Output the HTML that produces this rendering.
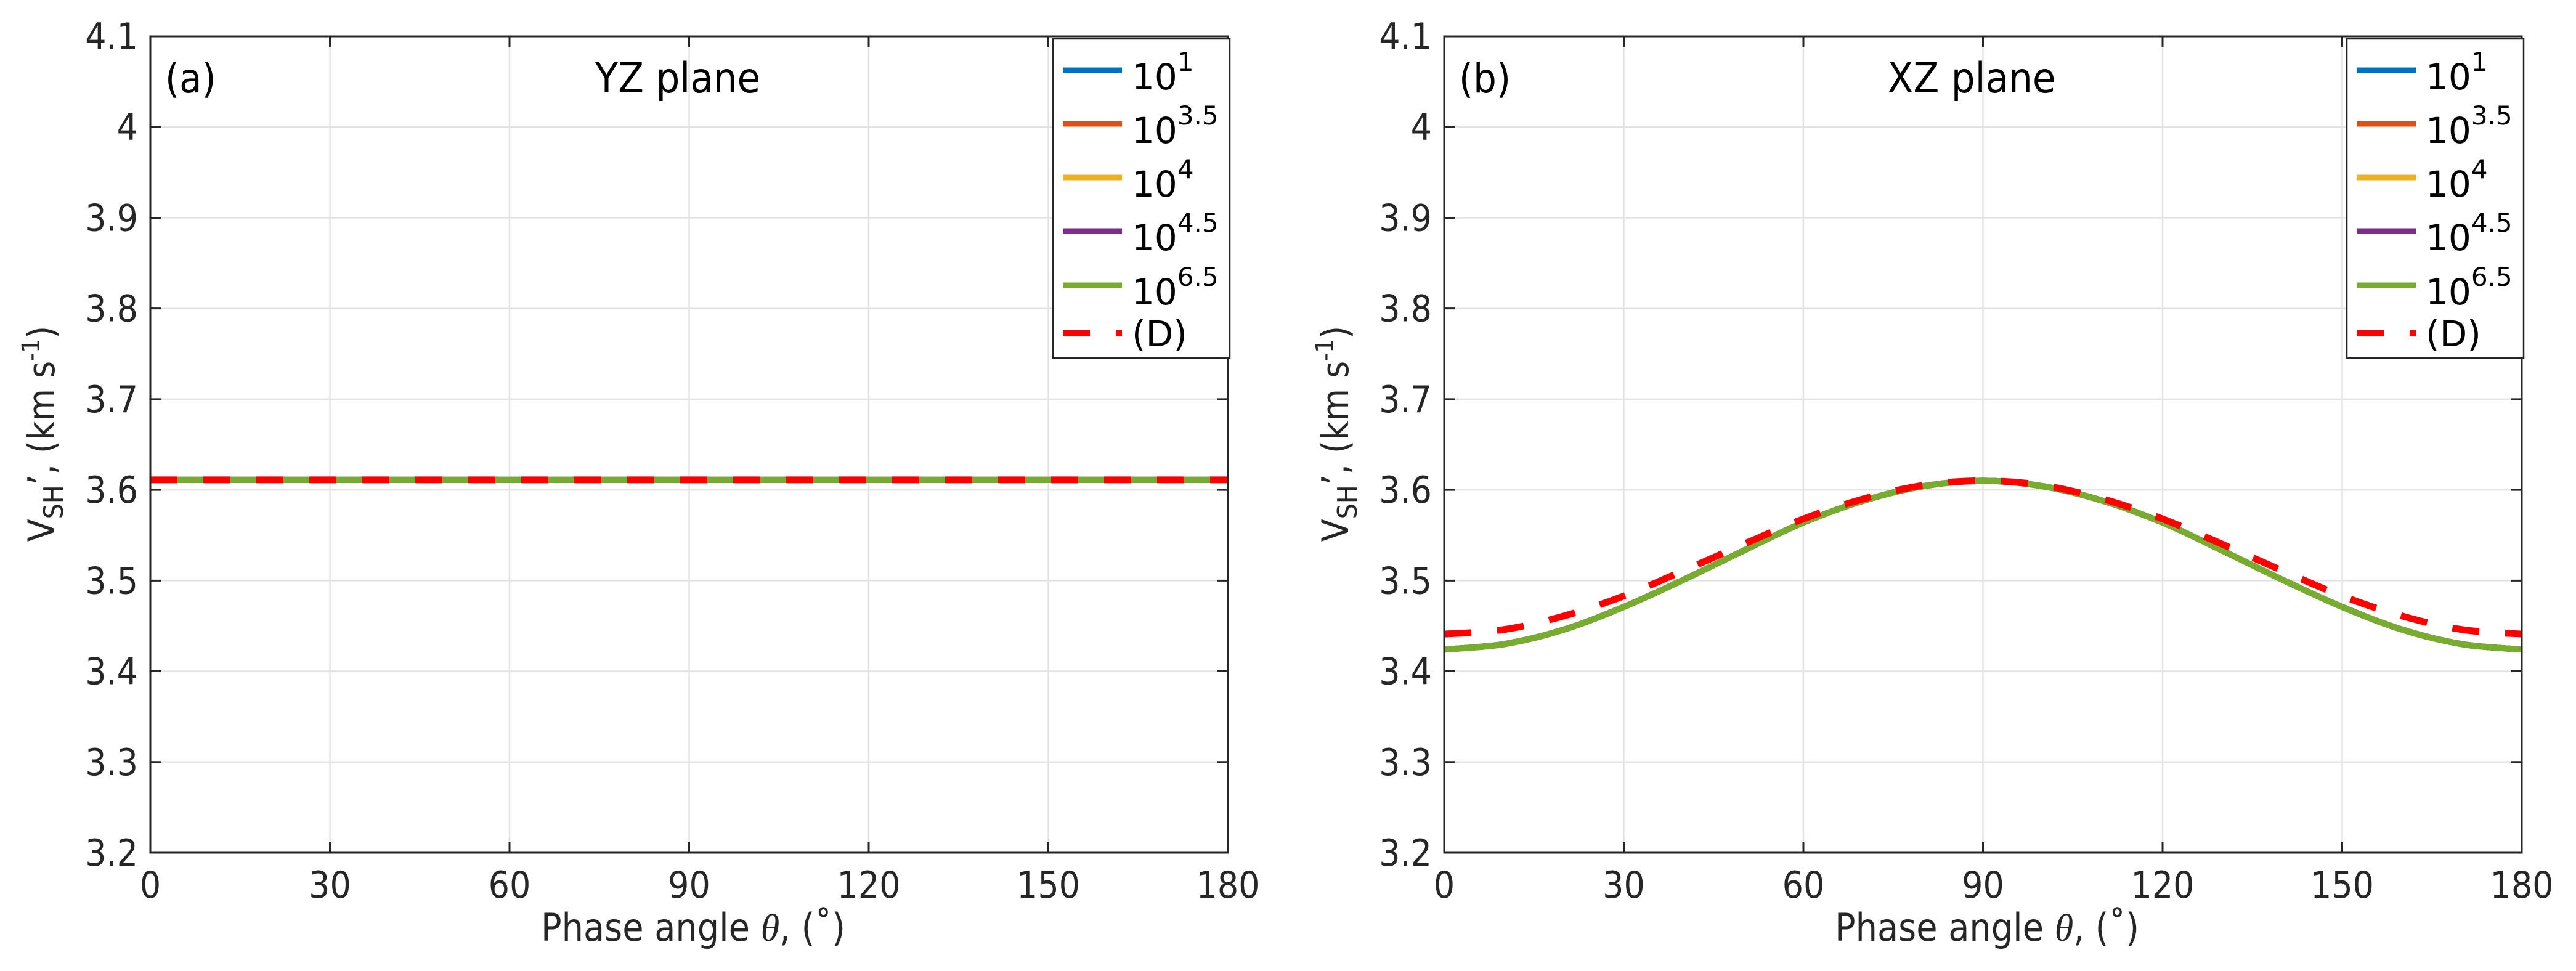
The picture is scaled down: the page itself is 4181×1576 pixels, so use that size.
<!DOCTYPE html>
<html><head><meta charset="utf-8"><style>
body{margin:0;background:#fff}
svg{display:block;font-family:"DejaVu Sans Condensed","DejaVu Sans","Liberation Sans",sans-serif}
</style></head><body>
<svg id="fig" width="4181" height="1576" viewBox="0 0 4181 1576" xmlns="http://www.w3.org/2000/svg"></svg>
<script>
const xTicks=[0,30,60,90,120,150,180];
const yTicks=[3.2,3.3,3.4,3.5,3.6,3.7,3.8,3.9,4.0,4.1];
const yTickLabels=["3.2","3.3","3.4","3.5","3.6","3.7","3.8","3.9","4","4.1"];
const seriesNames=["10^1","10^3.5","10^4","10^4.5","10^6.5"];
const seriesColors=["#0072bd","#d95319","#edb120","#7e2f8e","#77ac30"];
const angles=[0,10,20,30,40,50,60,70,80,90,100,110,120,130,140,150,160,170,180];
const yzSolid=[3.611,3.611,3.611,3.611,3.611,3.611,3.611,3.611,3.611,3.611,3.611,3.611,3.611,3.611,3.611,3.611,3.611,3.611,3.611];
const yzD=[3.611,3.611,3.611,3.611,3.611,3.611,3.611,3.611,3.611,3.611,3.611,3.611,3.611,3.611,3.611,3.611,3.611,3.611,3.611];
const xzSolid=[3.424,3.430,3.446,3.471,3.501,3.533,3.564,3.588,3.604,3.610,3.604,3.588,3.564,3.533,3.501,3.471,3.446,3.430,3.424];
const xzD=[3.441,3.446,3.461,3.483,3.511,3.540,3.568,3.590,3.605,3.610,3.605,3.590,3.568,3.540,3.511,3.483,3.461,3.446,3.441];

const NS="http://www.w3.org/2000/svg";
const svg=document.getElementById('fig');
function mk(tag,attrs,parent){const e=document.createElementNS(NS,tag);for(const k in attrs)e.setAttribute(k,attrs[k]);(parent||svg).appendChild(e);return e;}

function panel(ox,letter,title,solid,dashed,pname){
  const L=ox+244,R=ox+1993,T=59,B=1384;
  const xs=v=>L+(v-0)/180*(R-L);
  const ys=v=>B-(v-3.2)/0.9*(B-T);
  const g=mk('g',{});
  
  
  xTicks.forEach(t=>{const l=mk('line',{x1:xs(t),x2:xs(t),y1:T,y2:B,stroke:'#e3e3e3','stroke-width':2.5},g);
    });
  yTicks.forEach(t=>{const l=mk('line',{x1:L,x2:R,y1:ys(t),y2:ys(t),stroke:'#e3e3e3','stroke-width':2.5},g);
    });
  function pts(arr){return angles.map((a,i)=>[xs(a),ys(arr[i])]);}
  function smooth(p){let d='M'+p[0][0]+','+p[0][1];for(let i=0;i<p.length-1;i++){const p0=p[Math.max(i-1,0)],p1=p[i],p2=p[i+1],p3=p[Math.min(i+2,p.length-1)];
    d+=' C'+(p1[0]+(p2[0]-p0[0])/6)+','+(p1[1]+(p2[1]-p0[1])/6)+' '+(p2[0]-(p3[0]-p1[0])/6)+','+(p2[1]-(p3[1]-p1[1])/6)+' '+p2[0]+','+p2[1];}return d;}
  seriesColors.forEach((c,i)=>{const p=mk('path',{d:smooth(pts(solid)),fill:'none',stroke:c,'stroke-width':10},g);
    });
  const dp=mk('path',{d:smooth(pts(dashed)),fill:'none',stroke:'#ff0000','stroke-width':11,'stroke-dasharray':'44 42'},g);
  
  const bx=mk('rect',{x:L,y:T,width:R-L,height:B-T,fill:'none',stroke:'#262626','stroke-width':3},g);
  
  xTicks.forEach(t=>{mk('line',{x1:xs(t),x2:xs(t),y1:B,y2:B-17,stroke:'#262626','stroke-width':3},g);
    mk('line',{x1:xs(t),x2:xs(t),y1:T,y2:T+17,stroke:'#262626','stroke-width':3},g);
    const tx=mk('text',{x:xs(t),y:1457,'font-size':60,'text-anchor':'middle',fill:'#262626'},g);tx.textContent=t;
    });
  yTicks.forEach((t,i)=>{mk('line',{x1:L,x2:L+17,y1:ys(t),y2:ys(t),stroke:'#262626','stroke-width':3},g);
    mk('line',{x1:R,x2:R-17,y1:ys(t),y2:ys(t),stroke:'#262626','stroke-width':3},g);
    const tx=mk('text',{x:L-20,y:ys(t)+21,'font-size':60,'text-anchor':'end',fill:'#262626'},g);tx.textContent=yTickLabels[i];
    });
  const xl=mk('text',{x:ox+1125,y:1527,'font-size':62,'text-anchor':'middle',fill:'#262626'},g);
  xl.innerHTML='Phase angle <tspan font-family="Liberation Serif" font-style="italic">θ</tspan>, (˚)';
  
  const yl=mk('text',{x:0,y:0,'font-size':60,'text-anchor':'middle',fill:'#262626',transform:'translate('+(ox+88)+',704) rotate(-90)'},g);
  yl.innerHTML='V<tspan font-size="44" dy="14">SH</tspan><tspan dy="-14">’, (km s</tspan><tspan font-size="40" dy="-24">-1</tspan><tspan dy="24">)</tspan>';
  
  const pl=mk('text',{x:L+24,y:150,'font-size':66,fill:'#000'},g);pl.textContent=letter;
  
  const tt=mk('text',{x:ox+1100,y:150,'font-size':68,'text-anchor':'middle',fill:'#000'},g);tt.textContent=title;
  
  const lg=mk('g',{},g);
  
  mk('rect',{x:ox+1709,y:63,width:287,height:518,fill:'#fff',stroke:'#262626','stroke-width':2.5},lg);
  const rows=[114,201,288,375,463];
  const sups=["1","3.5","4","4.5","6.5"];
  rows.forEach((ry,i)=>{
    const ln=mk('line',{x1:ox+1725,x2:ox+1821,y1:ry,y2:ry,stroke:seriesColors[i],'stroke-width':9},lg);
    
    const t=mk('text',{x:ox+1837,y:ry+31,'font-size':58,fill:'#000','font-family':'DejaVu Sans, sans-serif'},lg);
    t.innerHTML='10<tspan font-size="42" dy="-30">'+sups[i]+'</tspan>';
    
  });
  const dl=mk('line',{x1:ox+1725,x2:ox+1821,y1:541,y2:541,stroke:'#ff0000','stroke-width':10,'stroke-dasharray':'44 42'},lg);
  
  const dt=mk('text',{x:ox+1837,y:562,'font-size':58,fill:'#000','font-family':'DejaVu Sans, sans-serif'},lg);dt.textContent='(D)';
  
}
panel(0,'(a)','YZ plane',yzSolid,yzD,'panel-a-yz');
panel(2100,'(b)','XZ plane',xzSolid,xzD,'panel-b-xz');
</script>
</body></html>
